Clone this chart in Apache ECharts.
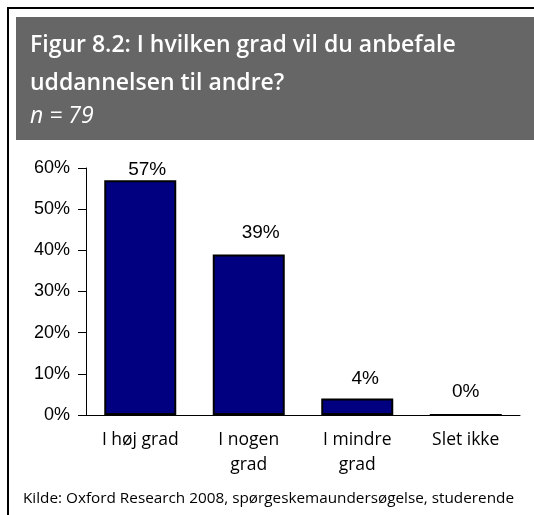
<!DOCTYPE html>
<html>
<head>
<meta charset="utf-8">
<script src="https://cdn.jsdelivr.net/npm/echarts@6/dist/echarts.min.js"></script>
<style>
  html, body { margin: 0; padding: 0; background: #fff; }
  #chart { width: 534px; height: 515px; }
</style>
</head>
<body>
<div id="chart"></div>
<script>
const titleLines = ['Figur 8.2: I hvilken grad vil du anbefale', 'uddannelsen til andre?']
const subtitle = 'n = 79'
const source = 'Kilde: Oxford Research 2008, spørgeskemaundersøgelse, studerende'
const categories = ['I høj grad', 'I nogen\ngrad', 'I mindre\ngrad', 'Slet ikke']
const shares = [57, 39, 4, 0]
const yTicks = { min: 0, max: 60, step: 10 }

// excel pushes the labels around a bit, tallest bar label sits tight under the top
const labelGap = [1, 12, 10, 13]
const labelShift = [7, 12, 8, 0]

const chart = echarts.init(document.getElementById('chart'))

chart.setOption({
  animation: false,
  graphic: [
    { type: 'rect', shape: { x: 8, y: 8, width: 560, height: 540 }, style: { fill: 'none', stroke: '#000', lineWidth: 2 } },
    { type: 'rect', shape: { x: 16, y: 17, width: 540, height: 123 }, style: { fill: '#666666' } },
    { type: 'text', left: 30, top: 34, style: { text: titleLines[0], fill: '#fff', font: '600 23px "Open Sans"' } },
    { type: 'text', left: 30, top: 72, style: { text: titleLines[1], fill: '#fff', font: '600 23px "Open Sans"' } },
    { type: 'text', left: 30, top: 105, style: { text: subtitle, fill: '#fff', font: 'italic 23px "Open Sans"' } },
    { type: 'text', left: 23, top: 491, style: { text: source, fill: '#000', font: '15.3px "Open Sans"' } }
  ],
  grid: { left: 86, right: 14, top: 168, bottom: 100 },
  xAxis: {
    type: 'category',
    data: categories,
    axisLine: { lineStyle: { color: '#000', width: 1 } },
    axisTick: { show: false },
    axisLabel: { color: '#000', fontFamily: 'Open Sans', fontSize: 17.5, lineHeight: 25, margin: 13, interval: 0 }
  },
  yAxis: {
    type: 'value',
    min: yTicks.min,
    max: yTicks.max,
    interval: yTicks.step,
    splitLine: { show: false },
    axisLine: { show: true, lineStyle: { color: '#000', width: 1 } },
    axisTick: { show: true, length: 8, lineStyle: { color: '#000' } },
    axisLabel: { color: '#000', fontFamily: 'Liberation Sans', fontSize: 18, margin: 16, formatter: '{value}%' }
  },
  series: [{
    type: 'bar',
    barWidth: 72,
    data: shares.map((v, i) => ({
      value: v,
      label: { distance: labelGap[i], offset: [labelShift[i], 0] }
    })),
    itemStyle: { color: '#000080', borderColor: '#000', borderWidth: 2 },
    label: {
      show: true,
      position: 'top',
      color: '#000',
      fontFamily: 'Liberation Sans',
      fontSize: 19,
      formatter: p => p.value + '%'
    }
  }]
})
</script>
</body>
</html>
